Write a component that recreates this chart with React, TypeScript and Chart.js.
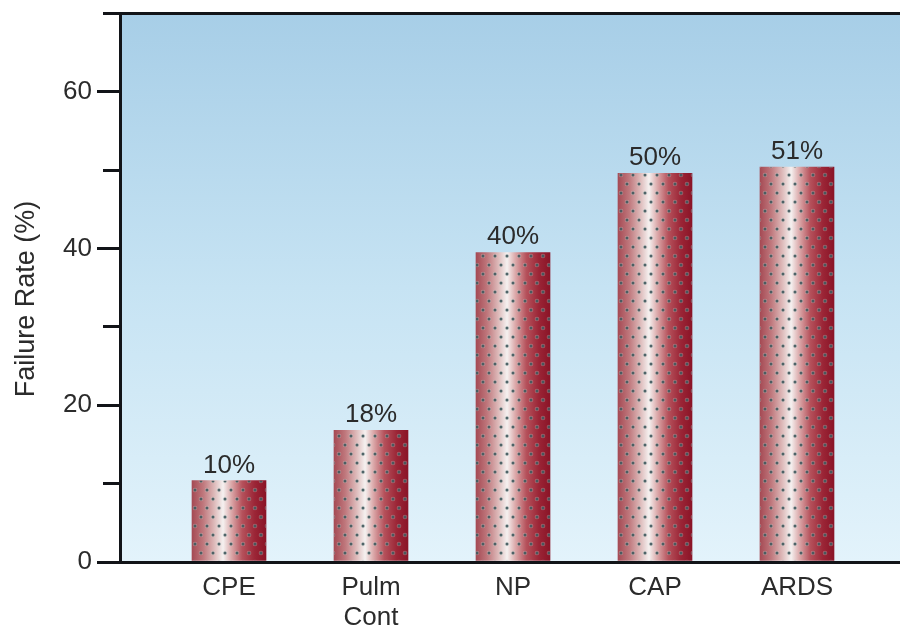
import React, { useEffect, useRef } from 'react';
import { Chart, registerables } from 'chart.js';

Chart.register(...registerables);

// ---- data ----
const categories: (string | string[])[] = ['CPE', ['Pulm', 'Cont'], 'NP', 'CAP', 'ARDS'];
const failureRates = [10.4, 16.8, 39.5, 49.6, 50.4];
const valueLabels = ['10%', '18%', '40%', '50%', '51%'];
const yAxisTitle = 'Failure Rate (%)';
const yMin = 0;
const yMax = 70;
const yStep = 10;
const yLabelEvery = 20;

const FONT = '"Liberation Sans", Arial, Helvetica, sans-serif';
const TEXT = '#2b2b2b';
const AXIS = '#121418';

function makeDotPattern(ctx: CanvasRenderingContext2D): CanvasPattern | string {
  const tile = document.createElement('canvas');
  tile.width = 12;
  tile.height = 18;
  const t = tile.getContext('2d');
  if (!t) return 'rgba(0,0,0,0)';
  const dots = [
    [3, 4],
    [9, 13],
  ];
  for (const [dx, dy] of dots) {
    t.fillStyle = 'rgba(200,210,205,0.35)';
    t.beginPath();
    t.arc(dx, dy, 2.3, 0, Math.PI * 2);
    t.fill();
    t.fillStyle = 'rgba(62,88,92,0.9)';
    t.beginPath();
    t.arc(dx, dy, 1.5, 0, Math.PI * 2);
    t.fill();
  }
  return ctx.createPattern(tile, 'repeat') || 'rgba(0,0,0,0)';
}

const backgroundPlugin = {
  id: 'plotBackground',
  beforeDraw(chart: any) {
    const { ctx, chartArea } = chart;
    if (!chartArea) return;
    const g = ctx.createLinearGradient(0, chartArea.top, 0, chartArea.bottom);
    g.addColorStop(0, '#a7cee7');
    g.addColorStop(0.5, '#c6e3f3');
    g.addColorStop(1, '#e3f3fb');
    ctx.save();
    ctx.fillStyle = g;
    ctx.fillRect(chartArea.left, chartArea.top, chartArea.right - chartArea.left, chartArea.bottom - chartArea.top);
    ctx.restore();
  },
};

const barDecorPlugin = {
  id: 'barDecor',
  afterDatasetsDraw(chart: any) {
    const { ctx } = chart;
    const meta = chart.getDatasetMeta(0);
    const pattern = makeDotPattern(ctx);
    ctx.save();
    meta.data.forEach((el: any, i: number) => {
      const { x, y, base, width } = el.getProps(['x', 'y', 'base', 'width'], true);
      ctx.save();
      ctx.beginPath();
      ctx.rect(x - width / 2, y, width, base - y);
      ctx.clip();
      ctx.fillStyle = pattern;
      ctx.fillRect(x - width / 2, y, width, base - y);
      ctx.restore();

      ctx.fillStyle = TEXT;
      ctx.font = `26px ${FONT}`;
      ctx.textAlign = 'center';
      ctx.textBaseline = 'alphabetic';
      ctx.fillText(valueLabels[i], x, y - 8);
    });
    ctx.restore();
  },
};

function barGradient(c: any) {
  const chart = c.chart;
  const xs = chart.scales && chart.scales.x;
  if (!chart.chartArea || !xs || !c.raw) return '#b04050';
  const cx = xs.getPixelForValue(c.raw.x);
  const half = 37;
  const g = chart.ctx.createLinearGradient(cx - half, 0, cx + half, 0);
  g.addColorStop(0, '#a54a54');
  g.addColorStop(0.15, '#bf777c');
  g.addColorStop(0.3, '#ddb9b9');
  g.addColorStop(0.42, '#f5f1f0');
  g.addColorStop(0.53, '#dcaaab');
  g.addColorStop(0.68, '#b5515b');
  g.addColorStop(0.85, '#9b2536');
  g.addColorStop(1, '#8a1427');
  return g;
}

export default function App() {
  const canvasRef = useRef<HTMLCanvasElement | null>(null);

  useEffect(() => {
    if (!canvasRef.current) return;
    const points = failureRates.map((v, i) => ({ x: i + 1, y: v }));
    const chart = new Chart(canvasRef.current, {
      type: 'bar',
      data: {
        datasets: [
          {
            data: points as any,
            backgroundColor: barGradient as any,
            borderWidth: 0,
            barThickness: 74,
          },
        ],
      },
      options: {
        animation: false,
        responsive: true,
        maintainAspectRatio: false,
        layout: { padding: { top: 0, right: 0, left: 0, bottom: 0 } },
        plugins: {
          legend: { display: false },
          tooltip: { enabled: false },
        },
        scales: {
          x: {
            type: 'linear',
            offset: false,
            min: 0.2324,
            max: 5.7254,
            afterFit: (s: any) => {
              s.height = 69;
            },
            afterBuildTicks: (s: any) => {
              s.ticks = categories.map((_, i) => ({ value: i + 1 }));
            },
            grid: { display: false, drawTicks: false },
            border: { display: true, color: AXIS, width: 3 },
            ticks: {
              autoSkip: false,
              maxRotation: 0,
              padding: 11,
              color: TEXT,
              font: { family: FONT, size: 26, lineHeight: 1.15 },
              callback: (v: any) => {
                const idx = Math.round(Number(v)) - 1;
                return idx >= 0 && idx < categories.length ? (categories[idx] as any) : '';
              },
            },
          },
          y: {
            min: yMin,
            max: yMax,
            afterFit: (s: any) => {
              s.width = 120;
            },
            border: { display: true, color: AXIS, width: 3 },
            grid: {
              drawOnChartArea: true,
              drawTicks: true,
              color: (c: any) => (c.tick && c.tick.value === yMax ? AXIS : 'rgba(0,0,0,0)'),
              lineWidth: 3,
              tickColor: AXIS,
              tickWidth: 3,
              tickLength: 23,
              tickBorderDash: (c: any) => (c.tick && c.tick.value % yLabelEvery === 0 ? [] : [17, 6]),
              tickBorderDashOffset: (c: any) => (c.tick && c.tick.value % yLabelEvery === 0 ? 0 : 17),
            } as any,
            ticks: {
              stepSize: yStep,
              padding: 5,
              color: TEXT,
              font: { family: FONT, size: 26, lineHeight: 0.65 },
              callback: (v: any) => (Number(v) % yLabelEvery === 0 ? String(v) : ''),
            },
            title: {
              display: true,
              text: yAxisTitle + '   ',
              color: TEXT,
              font: { family: FONT, size: 27 },
              padding: { top: 10, bottom: 0 },
            },
          },
        },
      },
      plugins: [backgroundPlugin, barDecorPlugin],
    });
    return () => chart.destroy();
  }, []);

  return (
    <div style={{ position: 'fixed', left: 0, top: 0, width: 900, height: 631, background: '#fff' }}>
      <canvas ref={canvasRef} />
    </div>
  );
}
